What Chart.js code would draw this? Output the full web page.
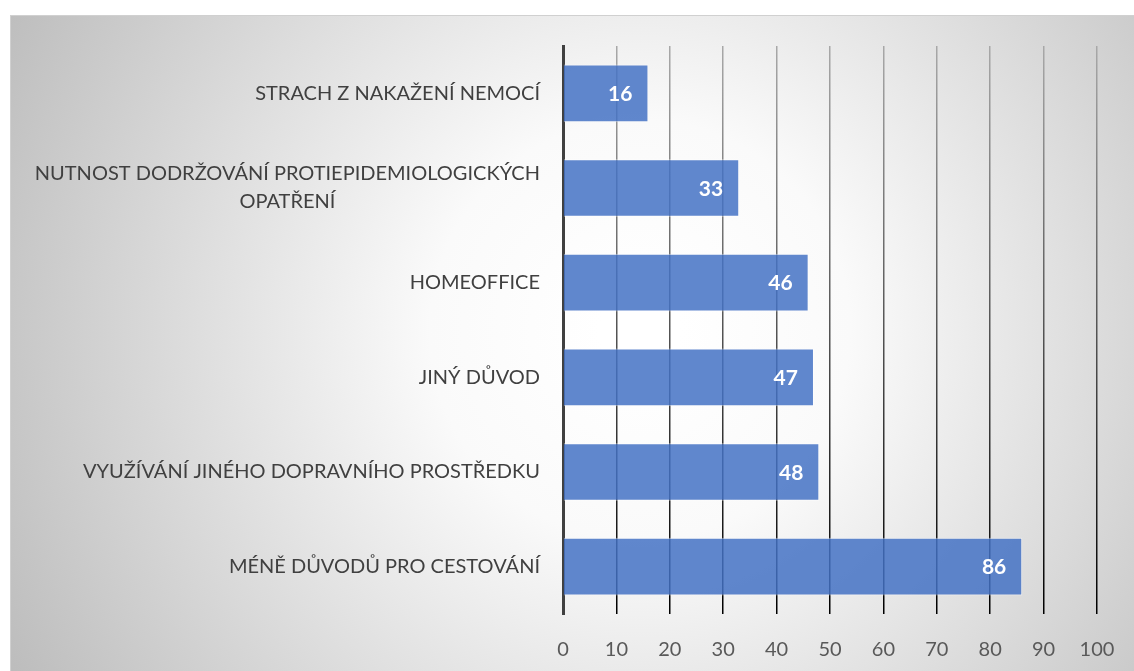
<!DOCTYPE html>
<html>
<head>
<meta charset="utf-8">
<script src="https://cdn.jsdelivr.net/npm/chart.js@4"></script>
<style>
  html, body { margin: 0; padding: 0; background: #fff; }
  #wrap { width: 1134px; height: 671px; position: relative; }
</style>
</head>
<body>
<div id="wrap"><canvas id="chart"></canvas></div>
<script>
// chart data
const categories = [
  'STRACH Z NAKAŽENÍ NEMOCÍ',
  ['NUTNOST DODRŽOVÁNÍ PROTIEPIDEMIOLOGICKÝCH', 'OPATŘENÍ'],
  'HOMEOFFICE',
  'JINÝ DŮVOD',
  'VYUŽÍVÁNÍ JINÉHO DOPRAVNÍHO PROSTŘEDKU',
  'MÉNĚ DŮVODŮ PRO CESTOVÁNÍ'
];
const values = [16, 33, 46, 47, 48, 86];
const xTicks = [0, 10, 20, 30, 40, 50, 60, 70, 80, 90, 100];

const FONT = 'Lato, "Open Sans", sans-serif';

// background panel with radial gradient
const panelBg = {
    id: 'panelBg',
    beforeDraw(chart) {
        const ctx = chart.ctx;
        ctx.save();
        const g = ctx.createRadialGradient(640, 330, 40, 640, 330, 720);
        g.addColorStop(0, '#ffffff');
        g.addColorStop(0.25, '#fafafa');
        g.addColorStop(1, '#bcbcbc');
        ctx.fillStyle = g;
        ctx.fillRect(10, 15, chart.width - 10, chart.height - 15);
        ctx.strokeStyle = '#d0d0d0';
        ctx.lineWidth = 1;
        ctx.strokeRect(10.5, 15.5, chart.width, chart.height);
        ctx.restore();
    }
};

// category labels, centred per line and right-aligned as a block
const catLabels = {
    id: 'catLabels',
    afterDraw(chart) {
        const ctx = chart.ctx;
        const yScale = chart.scales.y;
        const right = chart.chartArea.left - 23;
        ctx.save();
        ctx.font = '20px ' + FONT;
        ctx.fillStyle = '#404040';
        ctx.textBaseline = 'middle';
        categories.forEach((lab, i) => {
            const lines = Array.isArray(lab) ? lab : [lab];
            const y = yScale.getPixelForValue(i);
            const w = Math.max(...lines.map(l => ctx.measureText(l).width));
            const cx = right - w / 2;
            const lh = 28;
            ctx.textAlign = 'center';
            lines.forEach((l, k) => {
                ctx.fillText(l, cx, y + (k - (lines.length - 1) / 2) * lh);
            });
        });
        ctx.restore();
    }
};

// value labels inside bar end
const valueLabels = {
    id: 'valueLabels',
    afterDatasetsDraw(chart) {
        const ctx = chart.ctx;
        const meta = chart.getDatasetMeta(0);
        ctx.save();
        ctx.font = 'bold 21px ' + FONT;
        ctx.fillStyle = '#ffffff';
        ctx.textAlign = 'right';
        ctx.textBaseline = 'middle';
        meta.data.forEach((bar, i) => {
            ctx.fillText(values[i], bar.x - 16, bar.y + 1);
        });
        ctx.restore();
    }
};

const ctx = document.getElementById('chart').getContext('2d');
new Chart(ctx, {
    type: 'bar',
    data: {
        labels: categories,
        datasets: [{
            data: values,
            backgroundColor: 'rgba(68,114,196,0.85)',
            borderColor: 'rgba(255,255,255,0.55)',
            borderWidth: 1,
            categoryPercentage: 0.61,
            barPercentage: 1.0
        }]
    },
    options: {
        indexAxis: 'y',
        responsive: true,
        maintainAspectRatio: false,
        animation: false,
        layout: { padding: { top: 46, right: 37, bottom: 0, left: 10 } },
        plugins: {
            legend: { display: false },
            tooltip: { enabled: false }
        },
        scales: {
            x: {
                min: 0, max: 100,
                afterBuildTicks: (scale) => { scale.ticks = xTicks.map(v => ({ value: v })); },
                afterFit: (scale) => {
                    scale.height = 57;
                    scale.paddingLeft = 0;
                    scale.paddingRight = 0;
                },
                grid: {
                    drawTicks: false,
                    lineWidth: 1.5,
                    color: (c) => {
                        const area = c.chart.chartArea;
                        if (!area) return '#000';
                        const g = c.chart.ctx.createLinearGradient(0, area.top, 0, area.bottom);
                        g.addColorStop(0, '#a8a8a8');
                        g.addColorStop(1, '#000000');
                        return g;
                    }
                },
                border: { display: false },
                ticks: {
                    color: '#595959',
                    font: { family: FONT, size: 20 },
                    padding: 24
                }
            },
            y: {
                grid: { display: false },
                border: { display: true, color: '#404040', width: 3 },
                ticks: { display: false },
                afterFit: (scale) => { scale.width = 553; }
            }
        }
    },
    plugins: [panelBg, catLabels, valueLabels]
});
</script>
</body>
</html>
